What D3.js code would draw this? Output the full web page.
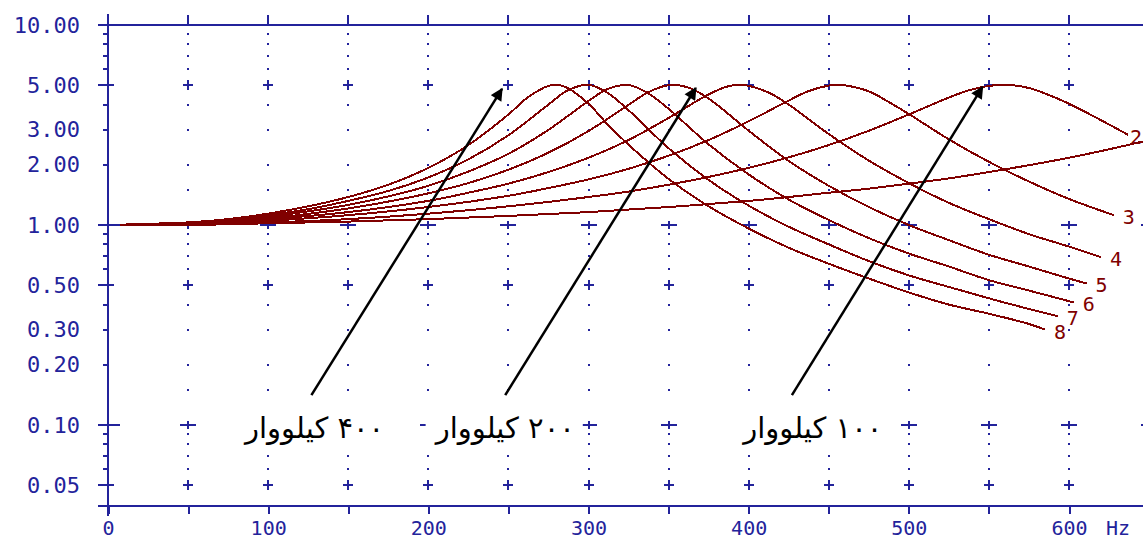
<!DOCTYPE html>
<html>
<head>
<meta charset="utf-8">
<script src="https://cdn.jsdelivr.net/npm/d3@7"></script>
<style>
  body { margin: 0; background: #fff; }
  svg { display: block; }
</style>
</head>
<body>
<script>
const W = 1143, H = 540
const blue = '#23239b'
const red = '#800000'

// axis ticks and labels
const xTicks = d3.range(0, 651, 50)
const xLabels = [0, 100, 200, 300, 400, 500, 600]
const yLabels = [10, 5, 3, 2, 1, 0.5, 0.3, 0.2, 0.1, 0.05]
const yDecades = [1, 0.1]
const yHalves = [5, 0.5, 0.05]
const yMinorTicks = [9, 8, 7, 6, 4, 3, 2, 0.9, 0.8, 0.7, 0.6, 0.4, 0.3, 0.2, 0.09, 0.08, 0.07, 0.06]
const yGridDots = [9, 8, 7, 6, 4, 3, 2, 1.5, 0.9, 0.8, 0.7, 0.6, 0.4, 0.3, 0.2, 0.15, 0.09, 0.08, 0.07, 0.06]

// curves: [Hz, ratio]
const curve1 = [[0,1.00],[50,1.00],[100,1.02],[150,1.04],[200,1.07],[250,1.11],[300,1.16],[350,1.23],[400,1.32],[425,1.38],[450,1.45],[475,1.52],[500,1.61],[525,1.71],[550,1.84],[575,1.99],[600,2.17],[625,2.39],[650,2.66]]
const curve2 = [[0,1.00],[50,1.01],[100,1.03],[150,1.07],[200,1.14],[250,1.24],[300,1.38],[325,1.47],[350,1.59],[375,1.74],[400,1.93],[425,2.18],[450,2.51],[475,2.96],[500,3.57],[525,4.34],[537,4.70],[550,4.96],[562,5.02],[575,4.84],[587,4.48],[600,4.04],[625,3.18],[637,2.82]]
const curve3 = [[0,1.00],[50,1.01],[100,1.05],[150,1.12],[200,1.23],[250,1.40],[275,1.53],[300,1.69],[325,1.91],[350,2.22],[375,2.66],[400,3.30],[425,4.19],[437,4.66],[450,4.98],[457,5.02],[475,4.66],[487,4.14],[500,3.59],[525,2.68],[550,2.07],[575,1.65],[600,1.35],[628,1.12]]
const curve4 = [[0,1.00],[50,1.02],[100,1.07],[150,1.16],[200,1.32],[225,1.45],[250,1.61],[275,1.84],[300,2.17],[325,2.66],[350,3.43],[375,4.50],[387,4.93],[396,5.02],[412,4.61],[425,4.00],[450,2.85],[475,2.10],[500,1.62],[525,1.29],[550,1.07],[575,0.90],[600,0.78],[620,0.69]]
const curve5 = [[0,1.00],[50,1.02],[100,1.08],[150,1.21],[175,1.31],[200,1.44],[225,1.62],[250,1.89],[275,2.30],[300,2.95],[325,3.99],[337,4.60],[350,5.00],[362,4.88],[375,4.29],[400,2.96],[425,2.09],[450,1.57],[475,1.23],[500,1.00],[525,0.84],[550,0.71],[575,0.62],[600,0.54],[611,0.51]]
const curve6 = [[0,1.00],[50,1.02],[100,1.10],[125,1.17],[150,1.26],[175,1.39],[200,1.57],[225,1.85],[250,2.27],[275,2.99],[300,4.17],[312,4.79],[325,5.01],[337,4.57],[350,3.81],[375,2.53],[400,1.79],[425,1.34],[450,1.06],[475,0.86],[500,0.72],[525,0.62],[550,0.53],[575,0.47],[603,0.41]]
const curve7 = [[0,1.00],[50,1.03],[75,1.06],[100,1.12],[125,1.20],[150,1.32],[175,1.48],[200,1.73],[225,2.13],[250,2.81],[275,4.00],[287,4.71],[300,5.02],[312,4.57],[325,3.75],[350,2.42],[375,1.68],[400,1.25],[425,0.98],[450,0.80],[475,0.66],[500,0.56],[525,0.49],[550,0.43],[575,0.38],[593,0.35]]
const curve8 = [[0,1.00],[50,1.03],[75,1.07],[100,1.14],[125,1.24],[150,1.38],[175,1.59],[200,1.93],[225,2.51],[250,3.57],[262,4.34],[275,4.96],[281,5.02],[287,4.84],[300,4.04],[312,3.18],[325,2.52],[350,1.70],[375,1.24],[400,0.96],[425,0.77],[450,0.64],[475,0.54],[500,0.46],[525,0.40],[550,0.36],[575,0.32],[585,0.30]]
const curves = [curve1, curve2, curve3, curve4, curve5, curve6, curve7, curve8]
const curveNames = ['1', '2', '3', '4', '5', '6', '7', '8']

// annotations
const notes = ['۴۰۰ کیلووار', '۲۰۰ کیلووار', '۱۰۰ کیلووار']
const noteText = [[129, 0.097], [248, 0.097], [440, 0.097]]
const noteTail = [[127, 0.141], [248, 0.141], [427, 0.141]]
const noteTip = [[246, 4.79], [367, 4.84], [546, 4.90]]

const x = d3.scaleLinear().domain([0, 600]).range([108, 1069])
const y = d3.scaleLog().domain([0.05, 10]).range([485.2, 25])
const yBottom = 506

const svg = d3.select('body').append('svg')
    .attr('width', W)
    .attr('height', H)
    .style('font-family', '"DejaVu Sans Mono", monospace')

// grid marks
const grid = svg.append('g').attr('shape-rendering', 'crispEdges')
const cols = d3.range(50, 651, 50)

grid.selectAll('.dot')
    .data(d3.cross(cols, yGridDots))
    .join('rect')
    .attr('x', d => Math.round(x(d[0])) - 1)
    .attr('y', d => Math.round(y(d[1])) - 1)
    .attr('width', 2)
    .attr('height', 2)
    .attr('fill', blue)

grid.selectAll('.half')
    .data(d3.cross(cols, yHalves))
    .join('path')
    .attr('d', d => {
        const cx = Math.round(x(d[0])), cy = Math.round(y(d[1]))
        return `M${cx - 5},${cy}H${cx + 5}M${cx},${cy - 5}V${cy + 5}`
    })
    .attr('stroke', blue)
    .attr('stroke-width', 2)

grid.selectAll('.dec')
    .data(d3.cross(cols, yDecades))
    .join('path')
    .attr('d', d => {
        const cx = Math.round(x(d[0])), cy = Math.round(y(d[1]))
        return `M${cx - 8},${cy}H${cx + 8}M${cx},${cy - 4}V${cy + 4}`
    })
    .attr('stroke', blue)
    .attr('stroke-width', 2)

// curves
const line = d3.line()
    .x(d => x(d[0]))
    .y(d => y(d[1]))
    .curve(d3.curveCatmullRom.alpha(0.5))

svg.append('g')
    .selectAll('path')
    .data(curves)
    .join('path')
    .attr('d', line)
    .attr('fill', 'none')
    .attr('stroke', red)
    .attr('stroke-width', 2)
    .attr('shape-rendering', 'crispEdges')

// end labels, kept inside the right edge
svg.append('g')
    .selectAll('text')
    .data(curves.slice(1))
    .join('text')
    .attr('x', d => Math.min(x(d[d.length - 1][0]) + 9, W - 13))
    .attr('y', d => y(d[d.length - 1][1]) + 2)
    .attr('dominant-baseline', 'central')
    .attr('fill', red)
    .attr('font-size', 20)
    .text((d, i) => curveNames[i + 1])

// axes
const axes = svg.append('g').attr('shape-rendering', 'crispEdges')
axes.append('line')
    .attr('x1', 98).attr('x2', W).attr('y1', y(10)).attr('y2', y(10))
    .attr('stroke', blue).attr('stroke-width', 2)
axes.append('line')
    .attr('x1', 98).attr('x2', W).attr('y1', yBottom).attr('y2', yBottom)
    .attr('stroke', blue).attr('stroke-width', 2)
axes.append('line')
    .attr('x1', x(0)).attr('x2', x(0)).attr('y1', 14).attr('y2', 516)
    .attr('stroke', blue).attr('stroke-width', 2)

// top ticks
axes.selectAll('.tt')
    .data(xTicks.slice(1))
    .join('line')
    .attr('x1', d => Math.round(x(d))).attr('x2', d => Math.round(x(d)))
    .attr('y1', y(10) - 10).attr('y2', y(10))
    .attr('stroke', blue).attr('stroke-width', 2)

// bottom axis
const xAxis = d3.axisBottom(x)
    .tickValues(xTicks)
    .tickSize(8)
    .tickPadding(8)
    .tickFormat(d => xLabels.includes(d) ? d : '')
const gx = svg.append('g')
    .attr('transform', `translate(0,${yBottom})`)
    .call(xAxis)
gx.select('.domain').remove()
gx.selectAll('line').attr('stroke', blue).attr('stroke-width', 2).attr('shape-rendering', 'crispEdges')
gx.selectAll('text')
    .attr('y', 29)
    .attr('dy', 0)
    .attr('fill', blue)
    .attr('font-size', 20)
    .attr('font-family', '"DejaVu Sans Mono", monospace')
svg.append('text')
    .attr('x', 1118).attr('y', yBottom + 29)
    .attr('text-anchor', 'middle')
    .attr('fill', blue)
    .attr('font-size', 20)
    .text('Hz')

// left axis labels
const yAxis = d3.axisLeft(y)
    .tickValues(yLabels)
    .tickSize(0)
    .tickPadding(28)
    .tickFormat(d3.format('.2f'))
const gy = svg.append('g')
    .attr('transform', `translate(${x(0)},0)`)
    .call(yAxis)
gy.select('.domain').remove()
gy.selectAll('text').attr('fill', blue).attr('font-size', 22).attr('font-family', '"DejaVu Sans Mono", monospace')

// left ticks
axes.selectAll('.ym')
    .data(yMinorTicks)
    .join('line')
    .attr('x1', x(0) - 5).attr('x2', x(0))
    .attr('y1', d => Math.round(y(d))).attr('y2', d => Math.round(y(d)))
    .attr('stroke', blue).attr('stroke-width', 2)
axes.selectAll('.yh')
    .data(yHalves)
    .join('line')
    .attr('x1', 98).attr('x2', x(0) + 6)
    .attr('y1', d => Math.round(y(d))).attr('y2', d => Math.round(y(d)))
    .attr('stroke', blue).attr('stroke-width', 2)
axes.selectAll('.yd')
    .data(yDecades)
    .join('line')
    .attr('x1', 98).attr('x2', x(0) + 12)
    .attr('y1', d => Math.round(y(d))).attr('y2', d => Math.round(y(d)))
    .attr('stroke', blue).attr('stroke-width', 2)

// arrows and notes
svg.append('defs').append('marker')
    .attr('id', 'head')
    .attr('viewBox', '0 0 10 10')
    .attr('refX', 9)
    .attr('refY', 5)
    .attr('markerWidth', 6)
    .attr('markerHeight', 5)
    .attr('orient', 'auto')
    .append('path')
    .attr('d', 'M0,0L10,5L0,10z')
    .attr('fill', '#000')

svg.append('g')
    .selectAll('line')
    .data(noteTail)
    .join('line')
    .attr('x1', d => x(d[0]))
    .attr('y1', d => y(d[1]))
    .attr('x2', (d, i) => x(noteTip[i][0]))
    .attr('y2', (d, i) => y(noteTip[i][1]))
    .attr('stroke', '#000')
    .attr('stroke-width', 2.5)
    .attr('marker-end', 'url(#head)')

const ng = svg.append('g')
const labels = ng.selectAll('text')
    .data(notes)
    .join('text')
    .attr('x', (d, i) => x(noteText[i][0]))
    .attr('y', (d, i) => y(noteText[i][1]))
    .attr('direction', 'rtl')
    .style('unicode-bidi', 'embed')
    .attr('text-anchor', 'middle')
    .attr('dominant-baseline', 'central')
    .attr('font-family', '"DejaVu Sans", sans-serif')
    .attr('font-size', 29)
    .attr('fill', '#000')
    .text(d => d)

labels.each(function () {
    const b = this.getBBox()
    ng.insert('rect', 'text')
        .attr('x', b.x - 8)
        .attr('y', b.y - 2)
        .attr('width', b.width + 16)
        .attr('height', b.height + 4)
        .attr('fill', '#fff')
})
</script>
</body>
</html>
